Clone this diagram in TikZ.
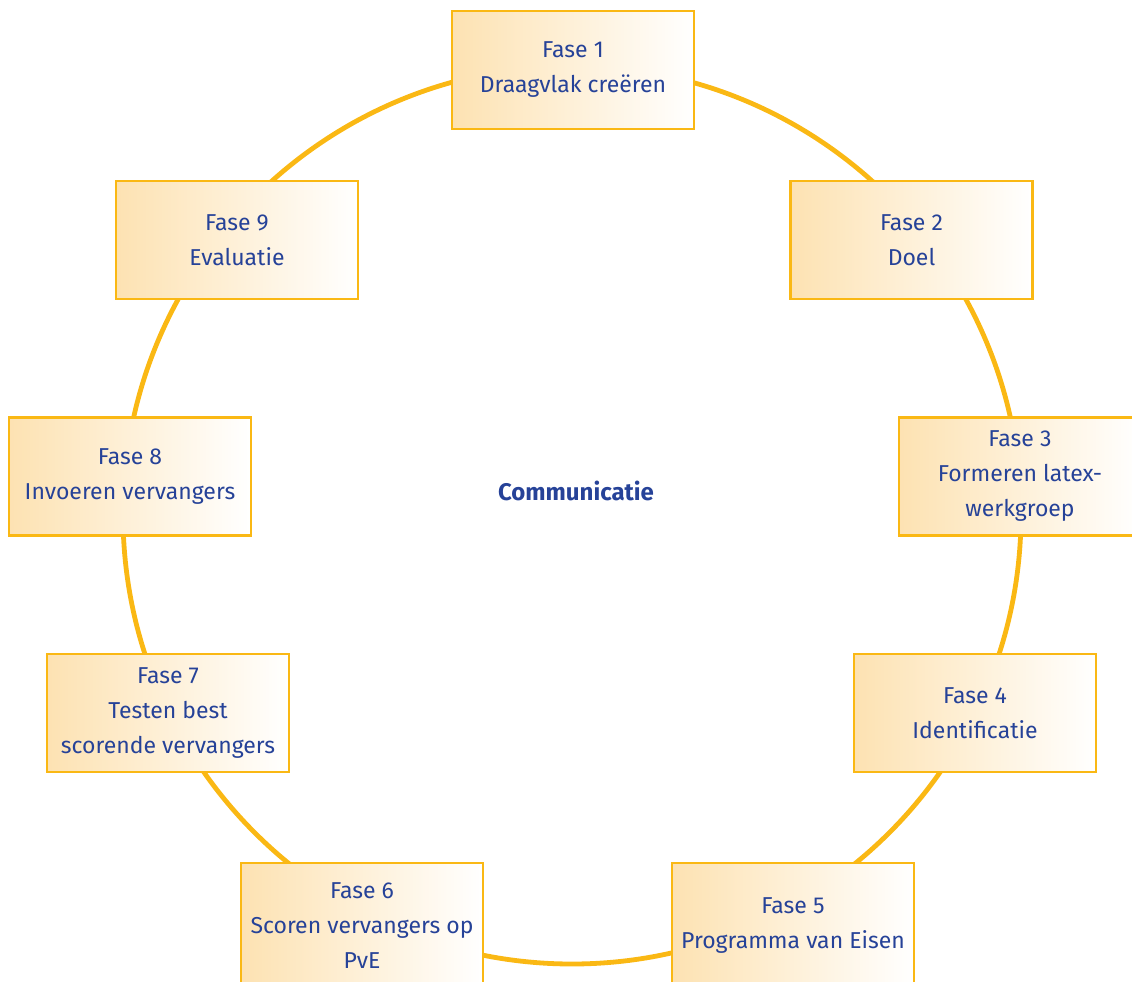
\documentclass[tikz,border=0pt]{standalone}
\usepackage{fontspec}
\setmainfont{Fira Sans}
\definecolor{ring}{RGB}{250,184,20}
\definecolor{ink}{RGB}{38,66,152}
\definecolor{warm}{RGB}{253,226,178}
\begin{document}
\begin{tikzpicture}[x=1pt,y=-1pt,
  phase/.style={draw=ring, line width=2.8pt, left color=warm, right color=white,
    minimum width=242pt, minimum height=118pt, inner sep=2pt, align=center,
    text=ink, font=\fontsize{23}{35}\selectfont},
  lowphase/.style={phase, minimum height=126pt},
  label/.style={text=ink, font=\fontsize{24}{28}\selectfont\bfseries}]
\useasboundingbox (0,0) rectangle (1132,982);
% the ring behind the phases
\draw[ring, line width=4.8pt] (572,515) circle[radius=449];
\node[label] (hub) at (576,491) {Communicatie};
\node[phase] (f1) at (573,70)  {Fase 1\\Draagvlak creëren};
\node[phase] (f2) at (911.5,240) {Fase 2\\Doel};
\node[phase] (f3) at (1020,476.5) {Fase 3\\Formeren latex-\\werkgroep};
\node[phase] (f4) at (975,713) {Fase 4\\Identificatie};
\node[lowphase] (f5) at (793,926) {Fase 5\\Programma van Eisen};
\node[lowphase] (f6) at (362,926) {Fase 6\\Scoren vervangers op\\PvE};
\node[phase] (f7) at (168,713) {Fase 7\\Testen best\\scorende vervangers};
\node[phase] (f8) at (130,476.5) {Fase 8\\Invoeren vervangers};
\node[phase] (f9) at (237,240) {Fase 9\\Evaluatie};
\end{tikzpicture}
\end{document}
